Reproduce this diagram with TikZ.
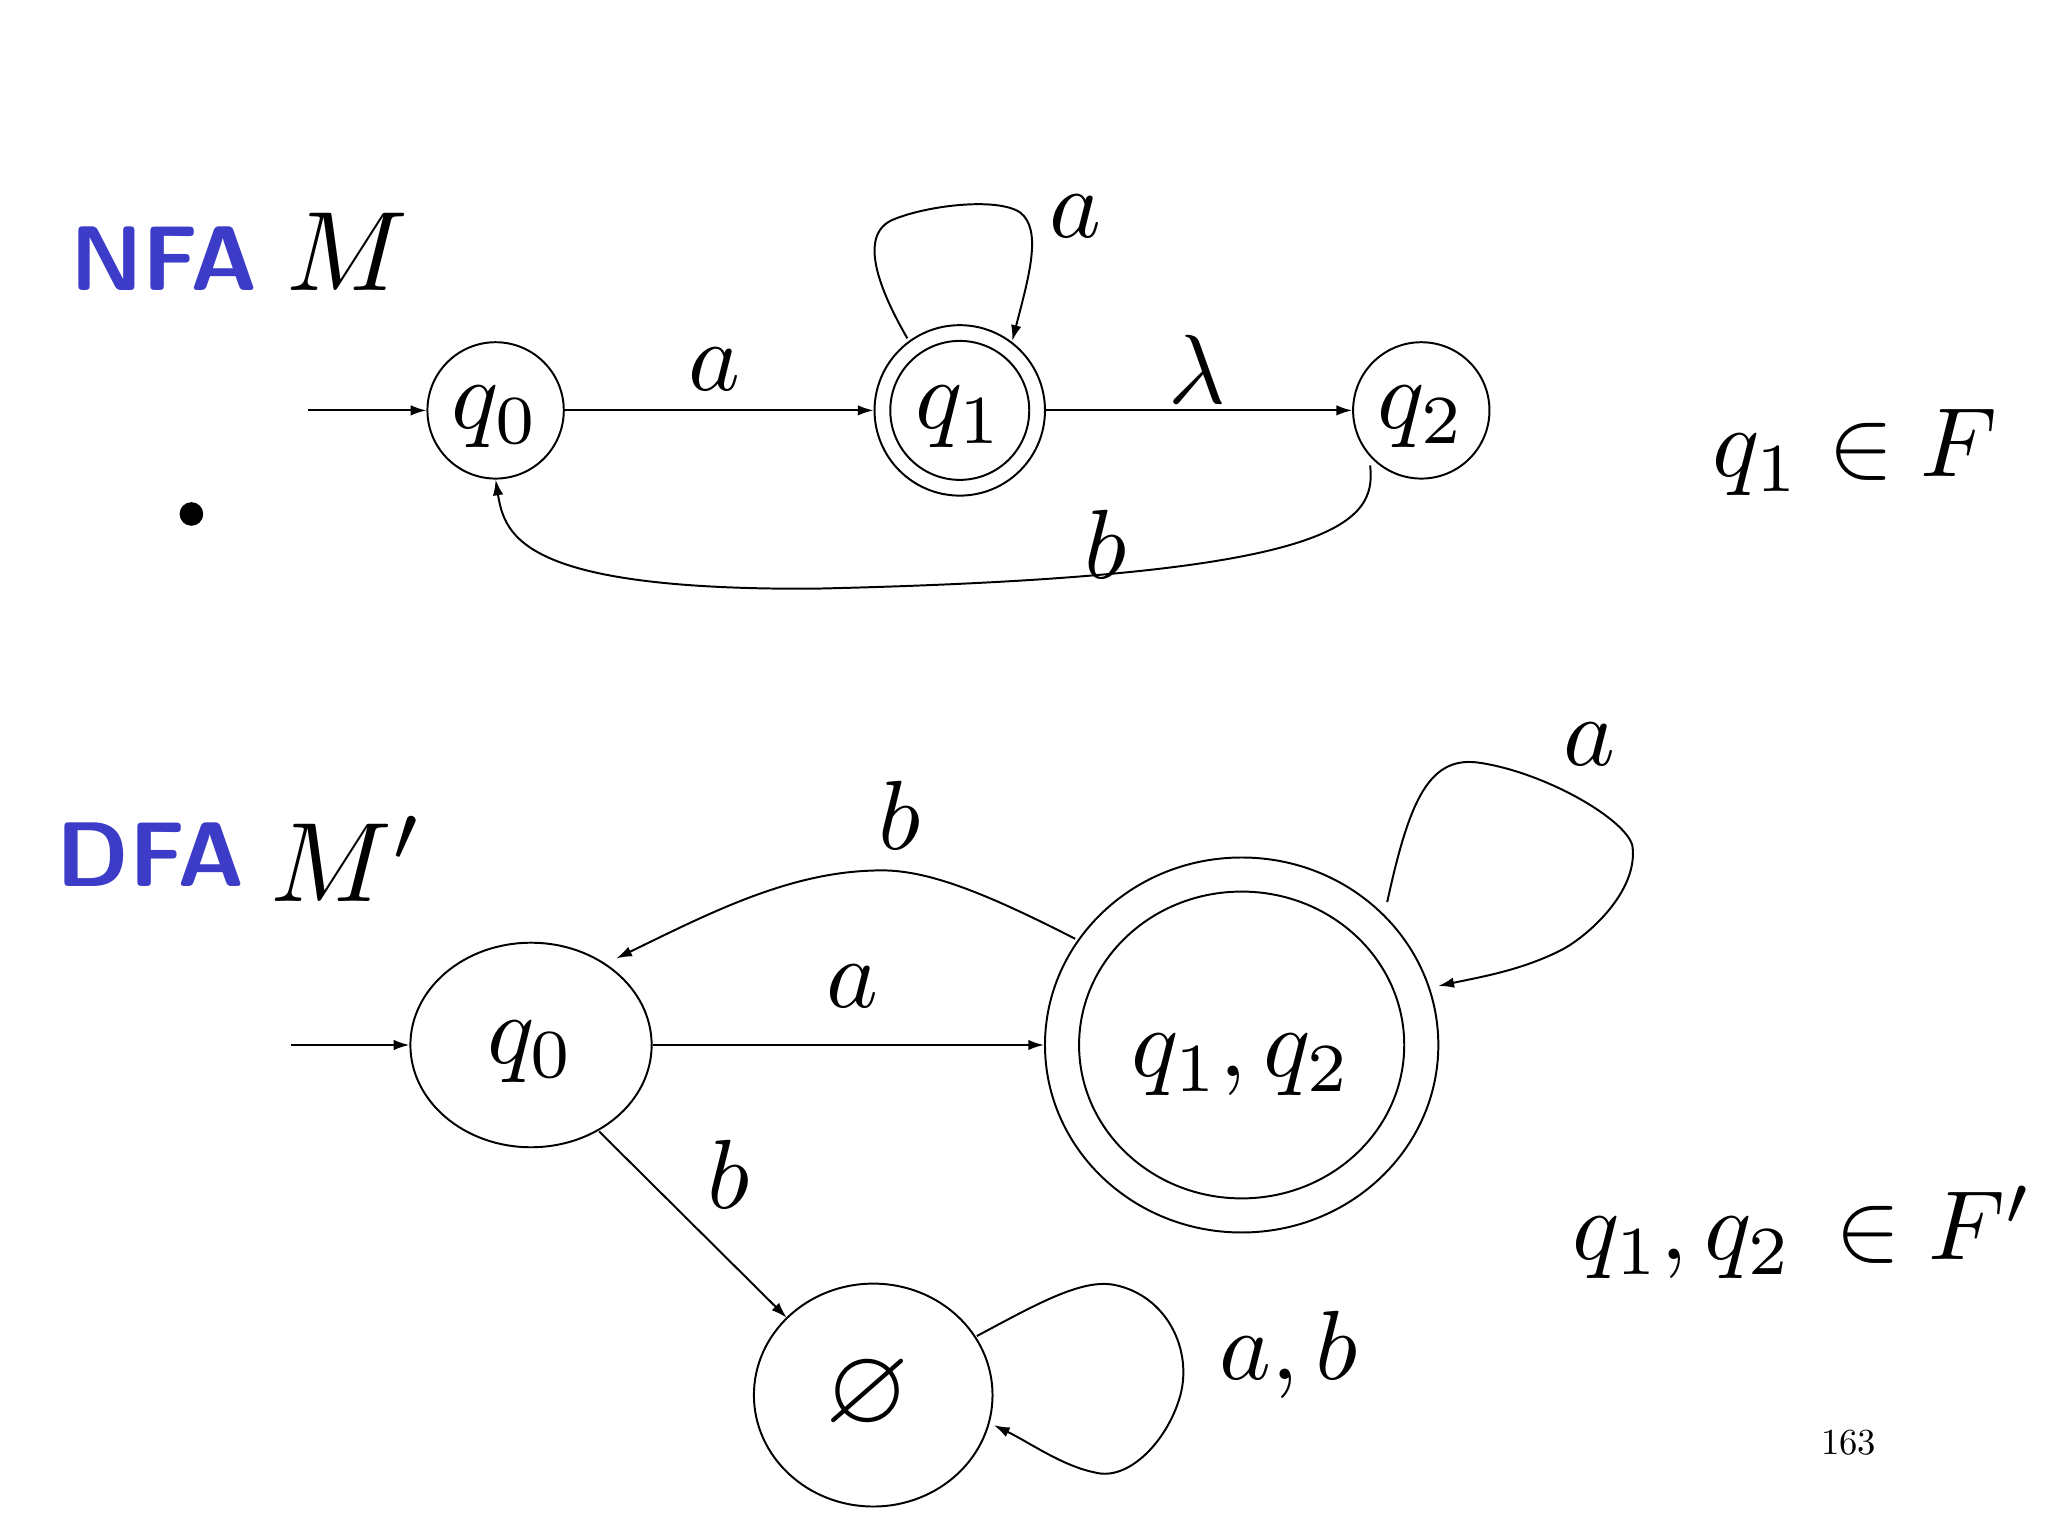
\documentclass[tikz,border=0pt]{standalone}
\usepackage{amssymb}
\usepackage{tikz}
\usetikzlibrary{shapes.geometric,arrows.meta}
\definecolor{nfablue}{RGB}{60,60,200}
\begin{document}
\begin{tikzpicture}[x=1pt,y=1pt,yscale=-1,xscale=1,
  st/.style={draw,line width=1.5pt,ellipse,inner sep=0pt},
  tr/.style={line width=1.5pt,-{Latex[length=12pt,width=8pt]}},
  lbl/.style={scale=7.5},
  ttl/.style={scale=7,text=nfablue,font=\sffamily\bfseries}]
\useasboundingbox (0,0) rectangle (1562,1172);

% NFA
\node [st,minimum width=104,minimum height=104] (q0) at (378,313) {};
\node [st,minimum width=130,minimum height=130] (q1) at (732,313) {};
\node [st,minimum width=106,minimum height=106] (q1i) at (732,313) {};
\node [st,minimum width=104,minimum height=104] (q2) at (1084,313) {};
\node [lbl] (q0t) at (378,318) {$q_0$};
\node [lbl] (q1t) at (732,318) {$q_1$};
\node [lbl] (q2t) at (1084,318) {$q_2$};
\coordinate (s1) at (235,313);
\draw [tr] (s1) -- (q0);
\draw [tr] (q0) -- (q1);
\draw [tr] (q1) -- (q2);
\draw [tr] (692,258) .. controls (670,220) and (655,180) .. (680,168) .. controls (705,157) and (760,150) .. (778,162) .. controls (795,175) and (785,210) .. (772,260);
\draw [tr] (1045,355) .. controls (1050,400) and (1020,440) .. (620,449) .. controls (400,450) and (385,410) .. (q0.south);
\node [lbl] (la1) at (545,282) {$a$};
\node [lbl] (ll1) at (913,282) {$\lambda$};
\node [lbl] (la2) at (820,165) {$a$};
\node [lbl] (lb1) at (843,415) {$b$};
\node [circle,fill,inner sep=0pt,minimum size=18] (dot) at (146,392) {};
\node [ttl] (nfa) at (125,197) {NFA};
\node [lbl,scale=1.15] (m1) at (265,192) {$M$};
\node [lbl] (f1) at (1415,345) {$q_1\in F$};

% DFA
\node [st,minimum width=184,minimum height=156] (p0) at (405,797) {};
\node [st,minimum width=300,minimum height=286] (p1) at (947,797) {};
\node [st,minimum width=248,minimum height=234] (p1i) at (947,797) {};
\node [st,minimum width=182,minimum height=170] (pe) at (666,1064) {};
\node [lbl] (p0t) at (405,802) {$q_0$};
\node [lbl] (p1t) at (947,812) {$q_1,q_2$};
\node [lbl,scale=1.1] (pet) at (662,1064) {$\varnothing$};
\coordinate (s2) at (222,797);
\draw [tr] (s2) -- (p0);
\draw [tr] (p0) -- (p1);
\draw [tr] (820,716) .. controls (740,675) and (700,662) .. (665,664) .. controls (600,666) and (540,697) .. (470,731);
\draw [tr] (1058,688) .. controls (1075,610) and (1090,575) .. (1130,582) .. controls (1180,590) and (1240,625) .. (1245,645) .. controls (1250,680) and (1210,715) .. (1190,725) .. controls (1160,740) and (1130,745) .. (1097,752);
\draw [tr] (457,863) -- (600,1005);
\draw [tr] (745,1019) .. controls (790,995) and (825,975) .. (850,980) .. controls (890,988) and (910,1030) .. (900,1065) .. controls (890,1100) and (860,1130) .. (835,1123) .. controls (810,1118) and (785,1100) .. (758,1087);
\node [lbl] (la3) at (650,752) {$a$};
\node [lbl] (lb2) at (686,622) {$b$};
\node [lbl] (la4) at (1212,568) {$a$};
\node [lbl] (lb3) at (556,896) {$b$};
\node [lbl] (lab) at (983,1033) {$a,b$};
\node [ttl] (dfa) at (115,652) {DFA};
\node [lbl,scale=1.15] (m2) at (265,655) {$M'$};
\node [lbl] (f2) at (1375,940) {$q_1,q_2\,\in F'$};
\node [scale=2.8] (pg) at (1410,1100) {163};
\end{tikzpicture}
\end{document}
